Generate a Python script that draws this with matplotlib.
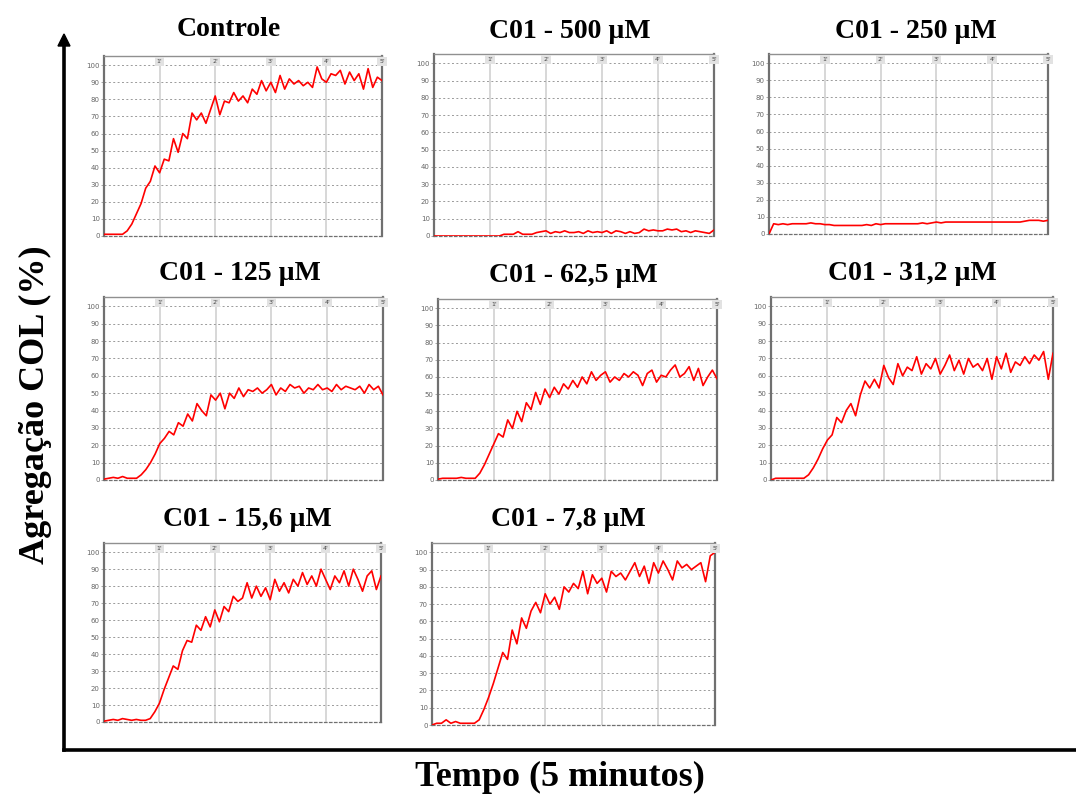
import numpy as np
import matplotlib
matplotlib.use("Agg")
import matplotlib.pyplot as plt
from matplotlib.lines import Line2D

# time axis: one reading every 5 s over 5 minutes
tempo = np.arange(61) / 12.0

controle = [1, 1, 1, 1, 1, 3, 7, 13, 19, 28, 32, 41, 37, 45, 44, 57, 49, 60, 57, 72,
            68, 72, 66, 74, 82, 71, 79, 78, 84, 79, 82, 78, 86, 83, 91, 85, 90, 84, 94, 86,
            92, 89, 91, 88, 90, 87, 99, 92, 90, 95, 94, 97, 89, 96, 91, 95, 86, 98, 87, 93, 91]
c500 = [0, 0, 0, 0, 0, 0, 0, 0, 0, 0, 0, 0, 0, 0, 0, 1, 1, 1, 2.5, 1,
        1, 1, 2, 2.5, 3, 1.5, 2.5, 2, 3, 2, 2, 2.5, 1.5, 3, 2, 2.5, 2, 3, 1.5, 3,
        2.5, 1.5, 2.5, 1.5, 2, 4, 3, 3.5, 3, 3, 4, 3.5, 4, 2.5, 3, 2, 3, 2.5, 2, 1.5, 3.5]
c250 = [0, 6, 5.5, 6, 5.5, 6, 6, 6, 6, 6.5, 6, 6, 5.5, 5.5, 5, 5, 5, 5, 5, 5,
        5, 5.5, 5, 6, 5.5, 6, 6, 6, 6, 6, 6, 6, 6, 6.5, 6, 6.5, 7, 6.5, 7, 7,
        7, 7, 7, 7, 7, 7, 7, 7, 7, 7, 7, 7, 7, 7, 7, 7.5, 8, 8, 8, 7.5, 8]
c125 = [0.5, 1, 1.5, 1, 2, 1, 1, 1, 3, 6, 10, 15, 21, 24, 28, 26, 33, 31, 38, 34,
        44, 40, 37, 49, 46, 50, 41, 50, 47, 53, 48, 52, 51, 53, 50, 52, 55, 49, 53, 51,
        55, 53, 54, 50, 53, 52, 55, 52, 53, 51, 55, 52, 54, 53, 52, 54, 50, 55, 52, 54, 49]
c62 = [0.5, 1, 1, 1, 1, 1.5, 1, 1, 1, 4, 9, 15, 21, 27, 25, 35, 30, 40, 34, 45,
       41, 51, 44, 53, 48, 54, 50, 56, 53, 58, 54, 60, 56, 63, 58, 61, 63, 57, 60, 58,
       62, 60, 63, 61, 55, 62, 64, 57, 61, 60, 64, 67, 60, 62, 66, 58, 65, 55, 60, 64, 59]
c31 = [0, 1, 1, 1, 1, 1, 1, 1, 3, 7, 12, 18, 23, 26, 36, 33, 40, 44, 37, 49,
       57, 53, 58, 53, 66, 59, 55, 67, 60, 65, 63, 71, 61, 67, 64, 70, 61, 66, 72, 63,
       69, 61, 70, 65, 67, 63, 70, 58, 71, 64, 73, 62, 68, 66, 71, 67, 72, 69, 74, 58, 73]
c15 = [0.5, 1, 1.5, 1, 2, 1.5, 1, 1.5, 1, 1, 2, 6, 11, 19, 26, 33, 31, 42, 48, 47,
       57, 54, 62, 56, 66, 59, 68, 65, 74, 71, 73, 82, 73, 80, 74, 79, 72, 84, 77, 82,
       76, 84, 80, 88, 81, 86, 80, 90, 84, 78, 86, 82, 89, 80, 90, 84, 77, 86, 89, 78, 86]
c7 = [0, 1, 1, 3, 1, 2, 1, 1, 1, 1, 3, 9, 16, 24, 33, 42, 38, 55, 47, 62,
      56, 66, 71, 65, 76, 70, 74, 67, 80, 77, 82, 79, 89, 76, 87, 82, 85, 77, 89, 86,
      88, 84, 89, 94, 86, 92, 82, 94, 88, 95, 90, 84, 95, 91, 93, 90, 92, 94, 83, 98, 100]

titulos = ["Controle", "C01 - 500 µM", "C01 - 250 µM", "C01 - 125 µM", "C01 - 62,5 µM",
           "C01 - 31,2 µM", "C01 - 15,6 µM", "C01 - 7,8 µM"]
series = [controle, c500, c250, c125, c62, c31, c15, c7]

W, H = 1076, 797
# panel boxes in pixels: left, right, top, bottom
caixas = [(104, 382, 56, 236), (434, 714, 54, 236), (769, 1048, 54, 234),
          (104, 383, 297, 480), (438, 717, 299, 480), (771, 1053, 297, 480),
          (104, 381, 543, 722), (432, 715, 543, 725)]
# title centres in pixels
pos_tit = [(229, 30), (570, 32), (916, 32), (240, 274), (573, 275), (912, 273),
           (247, 520), (568, 520)]

serif = ["Liberation Serif", "DejaVu Serif"]

fig = plt.figure(figsize=(W / 100, H / 100), dpi=100)

for k in range(8):
    l, r, t, b = caixas[k]
    ax = fig.add_axes([l / W, 1 - b / H, (r - l) / W, (b - t) / H])
    ax.set_xlim(0, 5)
    ax.set_ylim(0, 105.4)
    for m in range(1, 5):
        ax.axvline(m, color="#d4d4d4", lw=1.3, zorder=1)
    for v in range(10, 101, 10):
        ax.axhline(v, color="#9a9a9a", lw=0.7, ls=(0, (2, 2.5)), zorder=1)
    ax.plot(tempo, series[k], color="#ff0000", lw=1.2, zorder=3)
    ax.set_xticks([])
    ax.set_yticks(range(0, 101, 10))
    ax.set_yticklabels([str(v) for v in range(0, 101, 10)], fontsize=5, color="#666666")
    ax.tick_params(axis="y", length=2, width=0.5, color="#888888", pad=1)
    for s in ["left", "right"]:
        ax.spines[s].set_color("#707070")
        ax.spines[s].set_linewidth(1.6)
    ax.spines["top"].set_color("#909090")
    ax.spines["top"].set_linewidth(1.0)
    ax.spines["bottom"].set_color("#707070")
    ax.spines["bottom"].set_linewidth(0.9)
    ax.spines["bottom"].set_linestyle((0, (2, 2)))
    for m in range(1, 6):
        ax.text(m, 0.985, str(m) + "'", transform=ax.get_xaxis_transform(),
                ha="center", va="top", fontsize=4.5, color="#444444", clip_on=False,
                bbox=dict(boxstyle="square,pad=0.3", fc="#e2e2e2", ec="none"), zorder=4)
    fig.text(pos_tit[k][0] / W, 1 - pos_tit[k][1] / H, titulos[k], ha="center", va="center",
             fontsize=20, fontweight="bold", family=serif)

# big axis arrows
fig.add_artist(Line2D([64 / W, 1076 / W], [1 - 750 / H, 1 - 750 / H], transform=fig.transFigure,
                      color="black", lw=2.6))
fig.add_artist(Line2D([64 / W, 64 / W], [1 - 750 / H, 1 - 45 / H], transform=fig.transFigure,
                      color="black", lw=2.6))
fig.patches.append(plt.Polygon([[58 / W, 1 - 46 / H], [70 / W, 1 - 46 / H], [64 / W, 1 - 34 / H]],
                               closed=True, transform=fig.transFigure, color="black"))

fig.text(35 / W, 1 - 405 / H, "Agregação COL (%)", rotation=90, ha="center", va="center",
         fontsize=26, fontweight="bold", family=serif)
fig.text(560 / W, 1 - 777 / H, "Tempo (5 minutos)", ha="center", va="center",
         fontsize=26, fontweight="bold", family=serif)

fig.savefig("out.png", dpi=100)
